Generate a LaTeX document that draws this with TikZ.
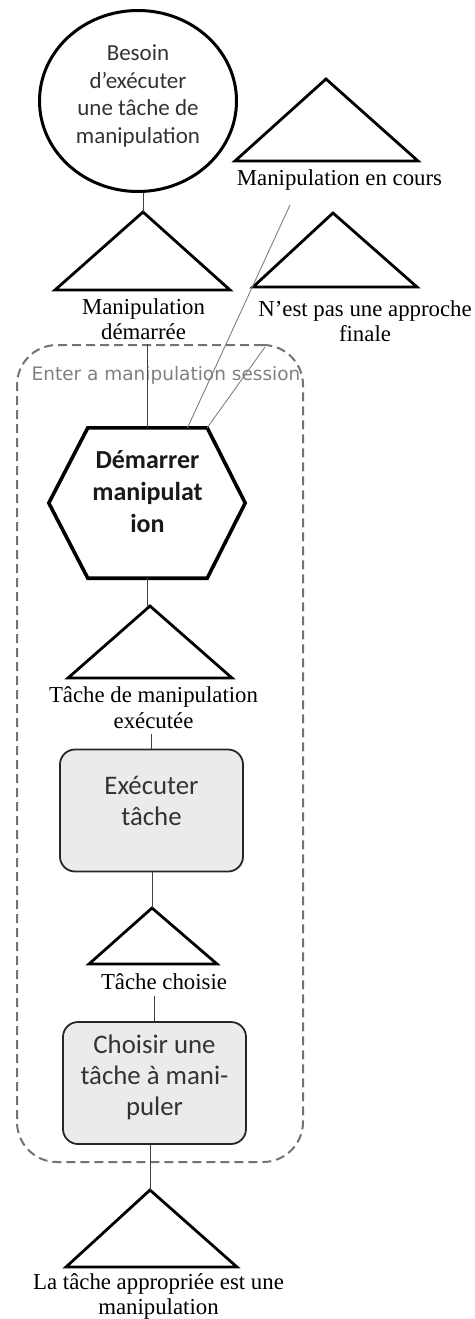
\documentclass[tikz,border=0pt]{standalone}
\usepackage{fontspec}
\setmainfont{Liberation Serif}
\newfontfamily\calibfont{Carlito}
\newfontfamily\sessionfont{DejaVu Sans}
\usetikzlibrary{shapes.geometric}

\begin{document}
\begin{tikzpicture}[x=1pt, y=-1pt,
    triline/.style={line width=2.8pt, line join=miter},
    link/.style={line width=1pt, draw=black!75},
    farlink/.style={line width=0.9pt, draw=black!50},
    lbl/.style={inner sep=0pt, align=center, font=\fontsize{22.8}{25.5}\selectfont},
    taskbox/.style={draw=black!85, line width=1.8pt, fill=black!8, rounded corners=15pt,
        minimum width=183pt, minimum height=122pt, inner sep=0pt},
    tasktxt/.style={inner sep=0pt, align=center, text=black!80,
        font=\calibfont\fontsize{26.8}{31}\selectfont}]

    \useasboundingbox (0,0) rectangle (474,1319);

    % session box
    \node[draw=black!55, dash pattern=on 9pt off 5pt, line width=2pt, rounded corners=40pt,
        minimum width=286pt, minimum height=817pt, inner sep=0pt] (session) at (160,753.5) {};
    \node[inner sep=0pt, text=black!50, font=\sessionfont\fontsize{18.5}{22}\selectfont]
        (sessiontitle) at (166,375) {Enter a manipulation session};

    % need
    \node[ellipse, draw, line width=3pt, minimum width=197pt, minimum height=181pt, inner sep=0pt]
        (besoin) at (138,101) {};
    \node[inner sep=0pt, align=center, text=black!80, font=\calibfont\fontsize{23}{27.5}\selectfont]
        (besointxt) at (138,96) {Besoin\\d’exécuter\\une tâche de\\manipulation};

    % Top triangles
    \coordinate (demarree) at (143,212);
    \draw[triline] (demarree) -- ++(-88,78) -- ++(175,0) -- cycle;
    \node[lbl] (demarreelbl) at (143.5,319) {Manipulation\\démarrée};

    \coordinate (encours) at (326,79);
    \draw[triline] (encours) -- ++(-91,82) -- ++(183,0) -- cycle;
    \node[lbl] (encourslbl) at (339.5,180) {Manipulation en cours};
    \coordinate (encoursend) at (290,205);

    \coordinate (approche) at (333,213);
    \draw[triline] (approche) -- ++(-80,74) -- ++(164,0) -- cycle;
    \node[lbl] (approchelbl) at (365,321) {N’est pas une approche\\finale};
    \coordinate (sessioncorner) at (265,347);

    % Start
    \node[minimum width=119pt, minimum height=150pt, inner sep=0pt] (demarrer) at (147.5,503) {};
    \draw[line width=3.6pt, line join=miter] (demarrer.north west) -- (demarrer.north east)
        -- ([xshift=38pt]demarrer.east) -- (demarrer.south east) -- (demarrer.south west)
        -- ([xshift=-39pt]demarrer.west) -- cycle;
    \node[inner sep=0pt, align=center, text=black!90, font=\calibfont\bfseries\fontsize{26}{32}\selectfont]
        (demarrertxt) at (147.5,492) {Démarrer\\manipulat\\ion};

    \draw[link] (demarree) -- (demarree |- besoin.south);
    \draw[link, shorten >=4pt] (demarrer.north) -- (demarrer.north |- demarreelbl.south);
    \draw[farlink] (encoursend) -- ([xshift=40pt]demarrer.north);
    \draw[farlink] (sessioncorner) -- (demarrer.north east);

    % Execute
    \coordinate (executee) at (150,606);
    \draw[triline] (executee) -- ++(-82,72) -- ++(164,0) -- cycle;
    \node[lbl] (executeelbl) at (153.5,707.5) {Tâche de manipulation\\exécutée};

    \node[taskbox] (executer) at (151.5,810.5) {};
    \node[tasktxt] (executertxt) at ([yshift=10pt]executer.center) {Exécuter\\tâche};

    \draw[link] (demarrer.south) -- (demarrer.south |- executee);
    \draw[link, shorten >=5pt] (executer.north) -- (executer.north |- executeelbl.south);

    % Choose
    \coordinate (choisie) at (152,908);
    \draw[triline] (choisie) -- ++(-63,56) -- ++(128,0) -- cycle;
    \node[lbl] (choisielbl) at (164,982) {Tâche choisie};

    \node[taskbox] (choisir) at (154.5,1083) {};
    \node[tasktxt] (choisirtxt) at ([yshift=6pt]choisir.center) {Choisir une\\tâche à mani-\\puler};

    \draw[link] (choisie) -- (choisie |- executer.south);
    \draw[link, shorten >=6pt] (choisir.north) -- (choisir.north |- choisielbl.south);

    % Bottom
    \coordinate (appropriee) at (150,1190);
    \draw[triline] (appropriee) -- ++(-84,77) -- ++(171,0) -- cycle;
    \node[lbl] (apprprieelbl) at (158.5,1296.5) {La tâche appropriée est une\\manipulation};

    \draw[link] (appropriee) -- (appropriee |- choisir.south);
\end{tikzpicture}
\end{document}
